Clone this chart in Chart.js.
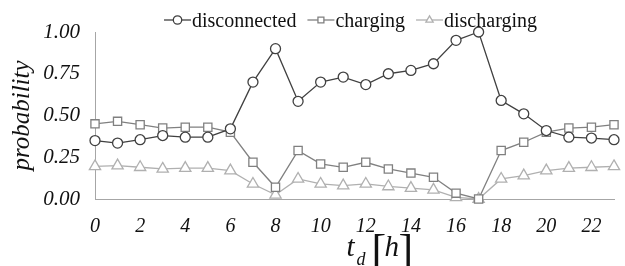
<!DOCTYPE html>
<html>
<head>
<meta charset="utf-8">
<script src="https://cdn.jsdelivr.net/npm/chart.js@4"></script>
<style>
  html, body { margin: 0; padding: 0; background: #fff; }
  #wrap { width: 625px; height: 266px; }
</style>
</head>
<body>
<div id="wrap"><canvas id="c"></canvas></div>
<script>
// hours of day
const hours = [0,1,2,3,4,5,6,7,8,9,10,11,12,13,14,15,16,17,18,19,20,21,22,23];

const disconnected = [0.35,0.335,0.355,0.38,0.37,0.37,0.42,0.70,0.90,0.585,0.70,0.73,0.685,0.75,0.77,0.81,0.95,1.00,0.59,0.51,0.41,0.37,0.365,0.355];
const charging     = [0.45,0.465,0.445,0.425,0.43,0.43,0.40,0.22,0.07,0.29,0.21,0.19,0.22,0.18,0.155,0.13,0.035,0.0,0.29,0.34,0.40,0.425,0.43,0.445];
const discharging  = [0.195,0.20,0.19,0.18,0.185,0.185,0.17,0.09,0.025,0.12,0.09,0.08,0.09,0.075,0.065,0.055,0.01,0.0,0.12,0.14,0.17,0.185,0.19,0.195];

const yTicks = [0, 0.25, 0.5, 0.75, 1];

const SERIF = '"Liberation Serif", "Times New Roman", serif';
const AXIS = '#a6a6a6';

function series(label, data, color, style, radius) {
    return {
        label,
        data: hours.map((h, i) => ({ x: h, y: data[i] })),
        borderColor: color,
        borderWidth: 1.3,
        pointStyle: style,
        pointRadius: radius,
        pointBorderColor: color,
        pointBackgroundColor: '#fff',
        pointBorderWidth: 1.3,
        clip: false
    };
}

// legend ( -o- label ) + axis titles drawn by hand
const decor = {
    id: 'decor',
    afterDraw(chart) {
        const ctx = chart.ctx;
        const a = chart.chartArea;
        ctx.save();

        // legend
        ctx.font = '20px ' + SERIF;
        const iconW = 27, gap = 11;
        const sets = chart.data.datasets;
        let total = 0;
        sets.forEach(ds => { total += iconW + 1 + ctx.measureText(ds.label).width + gap; });
        total -= gap;
        let x = (a.left + a.right) / 2 - 4 - total / 2;
        const ly = 20;
        sets.forEach(ds => {
            ctx.strokeStyle = ds.borderColor;
            ctx.lineWidth = 1.3;
            ctx.beginPath(); ctx.moveTo(x, ly); ctx.lineTo(x + iconW, ly); ctx.stroke();
            ctx.fillStyle = '#fff';
            Chart.helpers.drawPoint(ctx, {
                pointStyle: ds.pointStyle, radius: 4.2, rotation: 0, borderWidth: 1.3
            }, x + iconW / 2, ly);
            ctx.fillStyle = '#111';
            ctx.textBaseline = 'alphabetic';
            ctx.fillText(ds.label, x + iconW + 1, 27);
            x += iconW + 1 + ctx.measureText(ds.label).width + gap;
        });

        // y title
        ctx.fillStyle = '#111';
        ctx.save();
        ctx.translate(22, (a.top + a.bottom) / 2);
        ctx.rotate(-Math.PI / 2);
        ctx.font = 'italic 25px ' + SERIF;
        ctx.textAlign = 'center';
        ctx.textBaseline = 'middle';
        ctx.fillText('probability', 0, 0);
        ctx.restore();

        // x title  t_d [h]
        const cx = (a.left + a.right) / 2;
        const by = 256;
        ctx.textAlign = 'left';
        ctx.textBaseline = 'alphabetic';
        ctx.font = 'italic 29px ' + SERIF;
        ctx.fillText('t', cx - 8, by);
        ctx.font = 'italic 18px ' + SERIF;
        ctx.fillText('d', cx + 2, by + 9);
        ctx.font = '44px ' + SERIF;
        ctx.fillText('[', cx + 17, by + 9);
        ctx.fillText(']', cx + 44, by + 9);
        ctx.font = 'italic 29px ' + SERIF;
        ctx.fillText('h', cx + 30, by);
        ctx.restore();
    }
};

new Chart(document.getElementById('c'), {
    type: 'line',
    data: {
        datasets: [
            series('disconnected', disconnected, '#404040', 'circle', 5),
            series('charging', charging, '#808080', 'rect', 5.8),
            series('discharging', discharging, '#b0b0b0', 'triangle', 6.5)
        ]
    },
    plugins: [decor],
    options: {
        responsive: true,
        maintainAspectRatio: false,
        animation: false,
        layout: { padding: { top: 32, right: 1, bottom: 0, left: 0 } },
        plugins: {
            legend: { display: false },
            tooltip: { enabled: false }
        },
        scales: {
            x: {
                type: 'linear',
                min: 0,
                max: 23,
                grid: { display: false, drawTicks: true, tickLength: 5, tickColor: AXIS },
                border: { color: AXIS },
                afterBuildTicks(scale) {
                    scale.ticks = hours.map(h => ({ value: h }));
                },
                afterFit(scale) { scale.height = 67; },
                ticks: {
                    autoSkip: false,
                    maxRotation: 0,
                    padding: 11,
                    font: { family: SERIF, size: 20, style: 'italic' },
                    color: '#111',
                    callback: v => (v % 2 === 0 ? String(v) : '')
                }
            },
            y: {
                min: 0,
                max: 1,
                grid: { display: false, drawTicks: true, tickLength: 8, tickColor: AXIS },
                border: { color: AXIS },
                afterBuildTicks(scale) {
                    scale.ticks = yTicks.map(v => ({ value: v }));
                },
                afterFit(scale) { scale.width = 95; },
                ticks: {
                    font: { family: SERIF, size: 21, style: 'italic' },
                    color: '#111',
                    padding: 7,
                    callback: v => v.toFixed(2)
                }
            }
        }
    }
});
</script>
</body>
</html>
